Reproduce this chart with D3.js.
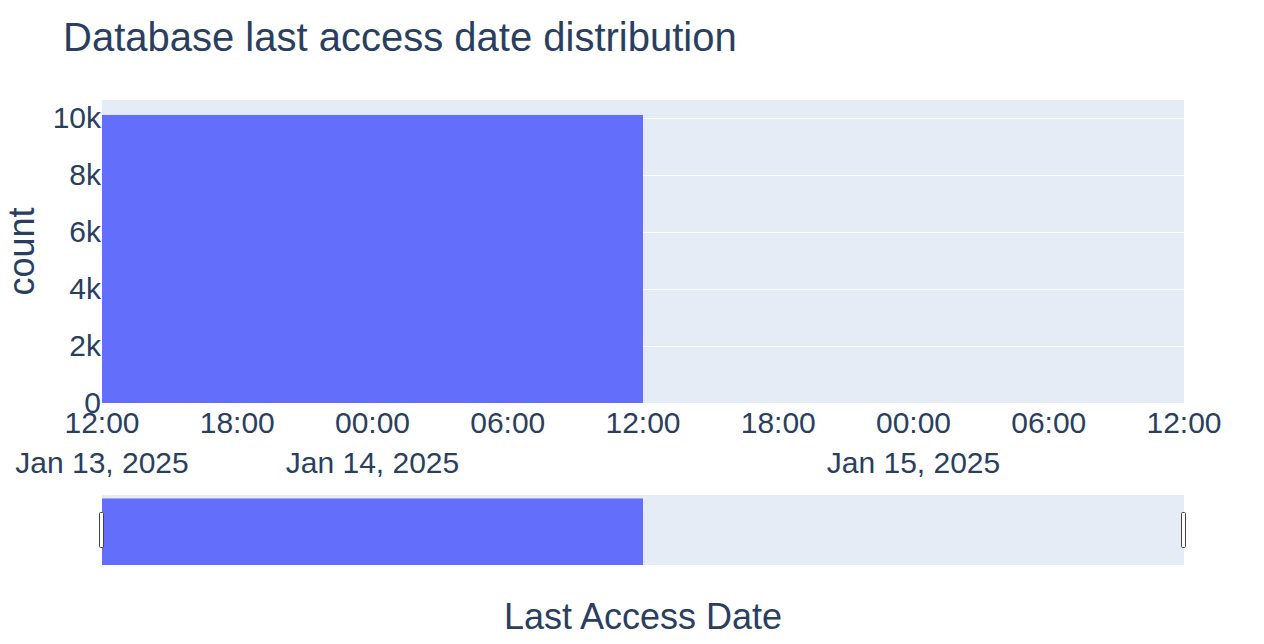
<!DOCTYPE html>
<html>
<head>
<meta charset="utf-8">
<script src="https://cdn.jsdelivr.net/npm/d3@7"></script>
<style>
  html, body { margin: 0; padding: 0; background: #fff; }
  svg { display: block; font-family: "Liberation Sans", Arial, sans-serif; }
</style>
</head>
<body>
<svg id="chart" width="1264" height="644"></svg>
<script>
// ---- data ----
const binStarts = ["2025-01-13T12:00:00"];
const binEnds   = ["2025-01-14T12:00:00"];
const counts    = [10105];
const yTickValues = [0, 2000, 4000, 6000, 8000, 10000];
const yTickLabels = ["0", "2k", "4k", "6k", "8k", "10k"];
const xDomain = ["2025-01-13T12:00:00", "2025-01-15T12:00:00"];
const titleText = "Database last access date distribution";
const xTitle = "Last Access Date";
const yTitle = "count";

// ---- layout ----
const W = 1264, H = 644;
const plot = { left: 102, right: 1184, top: 100, bottom: 403 };
const slider = { top: 495, bottom: 565 };
const textColor = "#2a3f5f";
const barColor = "#636efa";
const bgColor = "#e5ecf6";

const parse = d3.isoParse;
const svg = d3.select("#chart");

const x = d3.scaleTime()
  .domain(xDomain.map(parse))
  .range([plot.left, plot.right]);

const yMax = d3.max(counts) * 1.052;
const y = d3.scaleLinear().domain([0, yMax]).range([plot.bottom, plot.top]);
const ys = d3.scaleLinear().domain([0, yMax]).range([slider.bottom, slider.top]);

const data = binStarts.map((s, i) => ({ x0: parse(s), x1: parse(binEnds[i]), c: counts[i] }));

// plot background
svg.append("rect")
  .attr("x", plot.left).attr("y", plot.top)
  .attr("width", plot.right - plot.left).attr("height", plot.bottom - plot.top)
  .attr("fill", bgColor);

// gridlines
svg.append("g").selectAll("line")
  .data(yTickValues.filter(v => v > 0))
  .join("line")
  .attr("x1", plot.left).attr("x2", plot.right)
  .attr("y1", d => Math.round(y(d)) + 0.5).attr("y2", d => Math.round(y(d)) + 0.5)
  .attr("stroke", "#fff").attr("stroke-width", 1);

// bars
svg.append("g").selectAll("rect")
  .data(data)
  .join("rect")
  .attr("x", d => x(d.x0))
  .attr("width", d => x(d.x1) - x(d.x0))
  .attr("y", d => y(d.c))
  .attr("height", d => y(0) - y(d.c))
  .attr("fill", barColor);

// y axis labels
const yAxis = d3.axisLeft(y)
  .tickValues(yTickValues)
  .tickFormat((d, i) => yTickLabels[i])
  .tickSize(0).tickPadding(1);
const yg = svg.append("g").attr("transform", `translate(${plot.left},0)`).call(yAxis);
yg.select(".domain").remove();
yg.selectAll("text").attr("font-size", 30).attr("fill", textColor)
  .attr("font-family", '"Liberation Sans", Arial, sans-serif');

// x axis labels (time on first line, date on second)
const xTicks = d3.timeHour.every(6).range(x.domain()[0], d3.timeMinute.offset(x.domain()[1], 1));
const fmtTime = d3.timeFormat("%H:%M");
const fmtDate = d3.timeFormat("%b %-d, %Y");
const xg = svg.append("g");
xTicks.forEach((t, i) => {
  const tx = x(t);
  xg.append("text")
    .attr("x", tx).attr("y", 433)
    .attr("text-anchor", "middle")
    .attr("font-size", 30).attr("fill", textColor)
    .text(fmtTime(t));
  const showDate = (i === 0) || (t.getHours() === 0);
  if (showDate) {
    xg.append("text")
      .attr("x", tx).attr("y", 473)
      .attr("text-anchor", "middle")
      .attr("font-size", 30).attr("fill", textColor)
      .text(fmtDate(t));
  }
});

// range slider
svg.append("rect")
  .attr("x", plot.left).attr("y", slider.top)
  .attr("width", plot.right - plot.left).attr("height", slider.bottom - slider.top)
  .attr("fill", bgColor);
svg.append("g").selectAll("rect")
  .data(data)
  .join("rect")
  .attr("x", d => x(d.x0))
  .attr("width", d => x(d.x1) - x(d.x0))
  .attr("y", d => ys(d.c))
  .attr("height", d => ys(0) - ys(d.c))
  .attr("fill", barColor);
// handles
[plot.left, plot.right].forEach(hx => {
  svg.append("rect")
    .attr("x", hx - 2.5).attr("y", 512.5)
    .attr("width", 4).attr("height", 35)
    .attr("rx", 1).attr("ry", 1)
    .attr("fill", "#fff").attr("stroke", "#444").attr("stroke-width", 1);
});

// titles
svg.append("text")
  .attr("x", 63).attr("y", 51)
  .attr("font-size", 40).attr("fill", textColor)
  .text(titleText);

svg.append("text")
  .attr("x", (plot.left + plot.right) / 2).attr("y", 629)
  .attr("text-anchor", "middle")
  .attr("font-size", 36).attr("fill", textColor)
  .text(xTitle);

svg.append("text")
  .attr("transform", `translate(34,${(plot.top + plot.bottom) / 2}) rotate(-90)`)
  .attr("text-anchor", "middle")
  .attr("font-size", 36).attr("fill", textColor)
  .text(yTitle);
</script>
</body>
</html>
